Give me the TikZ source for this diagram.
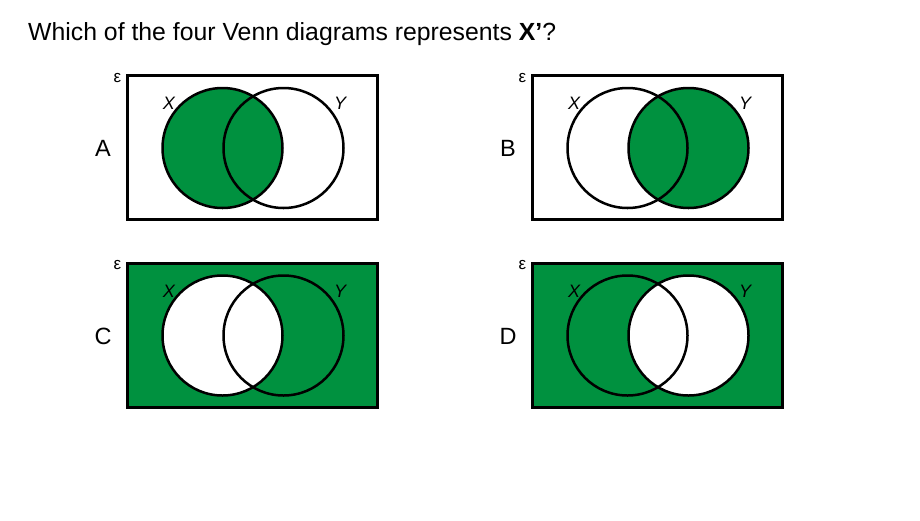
\documentclass[tikz,border=0pt]{standalone}
\usepackage{fontspec}
\setmainfont{Liberation Sans}
\definecolor{venngreen}{RGB}{0,145,63}
\tikzset{
  universe/.style={line width=3pt, draw=black},
  setcircle/.style={line width=2.5pt, draw=black},
  setlabel/.style={font=\fontsize{18}{21}\selectfont\itshape, inner sep=0pt},
  eps/.style={font=\fontsize{17}{19}\selectfont, inner sep=0pt},
  letter/.style={font=\fontsize{23.5}{27}\selectfont, inner sep=0pt},
}
\begin{document}
\begin{tikzpicture}[x=1pt,y=-1pt]
\useasboundingbox (0,0) rectangle (920,520);
\fill[white] (0,0) rectangle (920,520);
\node[anchor=base west, inner sep=0pt, font=\fontsize{24.8}{29}\selectfont] (title) at (28,40)
  {Which of the four Venn diagrams represents \textbf{X’}?};

% ---------- A ----------
\begin{scope}
\fill[venngreen] (222.5,148) circle (60);
\draw[setcircle] (222.5,148) circle (60);
\draw[setcircle] (283.5,148) circle (60);
\draw[universe] (127,75.5) rectangle (377.5,219.5);
\node[letter] (la) at (103,148.5) {A};
\node[eps] (ea) at (117.5,78) {ε};
\node[setlabel] (xa) at (169,103.5) {X};
\node[setlabel] (ya) at (340,103.5) {Y};
\end{scope}

% ---------- B ----------
\begin{scope}[xshift=405pt]
\fill[venngreen] (283.5,148) circle (60);
\draw[setcircle] (222.5,148) circle (60);
\draw[setcircle] (283.5,148) circle (60);
\draw[universe] (127,75.5) rectangle (377.5,219.5);
\node[letter] (lb) at (103,148.5) {B};
\node[eps] (eb) at (117.5,78) {ε};
\node[setlabel] (xb) at (169,103.5) {X};
\node[setlabel] (yb) at (340,103.5) {Y};
\end{scope}

% ---------- C ----------
\begin{scope}[yshift=-187.5pt]
\fill[venngreen] (127,75.5) rectangle (377.5,219.5);
\fill[white] (222.5,148) circle (60);
\draw[setcircle] (222.5,148) circle (60);
\draw[setcircle] (283.5,148) circle (60);
\draw[universe] (127,75.5) rectangle (377.5,219.5);
\node[letter] (lc) at (103,148.5) {C};
\node[eps] (ec) at (117.5,78) {ε};
\node[setlabel] (xc) at (169,103.5) {X};
\node[setlabel] (yc) at (340,103.5) {Y};
\end{scope}

% ---------- D ----------
\begin{scope}[xshift=405pt,yshift=-187.5pt]
\fill[venngreen] (127,75.5) rectangle (377.5,219.5);
\fill[white] (283.5,148) circle (60);
\draw[setcircle] (222.5,148) circle (60);
\draw[setcircle] (283.5,148) circle (60);
\draw[universe] (127,75.5) rectangle (377.5,219.5);
\node[letter] (ld) at (103,148.5) {D};
\node[eps] (ed) at (117.5,78) {ε};
\node[setlabel] (xd) at (169,103.5) {X};
\node[setlabel] (yd) at (340,103.5) {Y};
\end{scope}
\end{tikzpicture}
\end{document}
